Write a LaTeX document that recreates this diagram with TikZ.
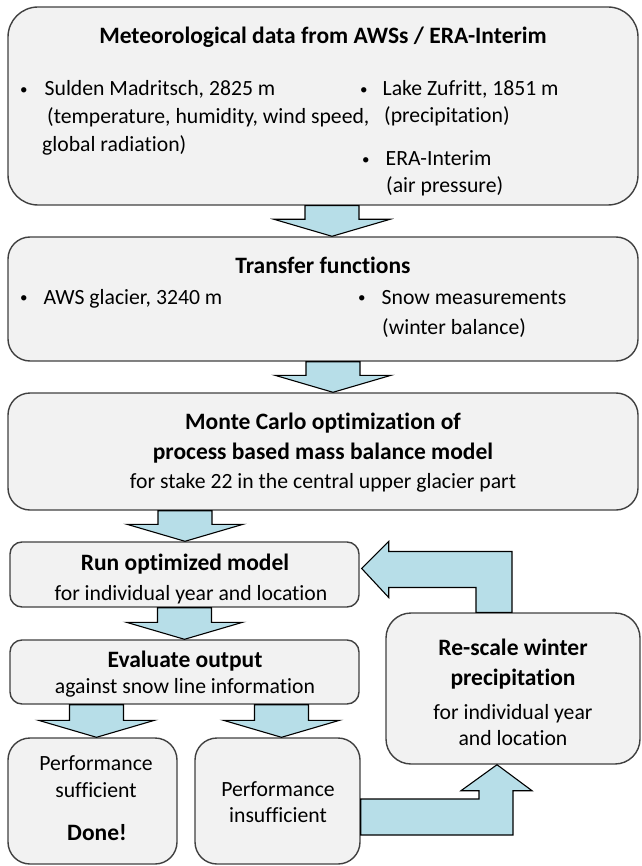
\documentclass[tikz,border=0pt]{standalone}
\usepackage{fontspec}
\setmainfont{Carlito}[RawFeature={-liga;-clig;-dlig;-calt}]
\usetikzlibrary{calc,positioning}
\definecolor{boxgray}{HTML}{F2F2F2}
\definecolor{boxline}{HTML}{404040}
\definecolor{arrowblue}{HTML}{B7DEE8}

\tikzset{
	box/.style={draw=boxline, fill=boxgray, line width=1.4pt, inner sep=0pt},
	blk/.style={draw=black, fill=arrowblue, line width=1.1pt, line join=miter},
	ttl/.style={font=\fontsize{23.5}{28}\selectfont\bfseries, anchor=base, inner sep=0pt},
	txt/.style={font=\fontsize{21.7}{26}\selectfont, anchor=base west, inner sep=0pt},
	ctxt/.style={font=\fontsize{21.7}{26}\selectfont, anchor=base, inner sep=0pt},
}

% small bullet as in the slides
\newcommand{\blt}{\raisebox{1.5pt}{\fontsize{15}{15}\selectfont\textbullet}}

% straight block arrow, from shaft top #1 down to tip #2
\newcommand{\blkdown}[2]{%
	\filldraw[blk] let \p1=#1, \p2=#2 in
	(\x1-27pt,\y1) -- (\x1+27pt,\y1) -- (\x1+27pt,\y2+17pt) -- (\x1+58pt,\y2+17pt)
	-- (\x1,\y2) -- (\x1-58pt,\y2+17pt) -- (\x1-27pt,\y2+17pt) -- cycle;}

\begin{document}
\begin{tikzpicture}[x=1pt,y=-1pt]
	\useasboundingbox (0,0) rectangle (641,866);
	% boxes
	\node[box, minimum width=630pt, minimum height=198pt, rounded corners=30pt] (met) at (323,106) {};
	\node[box, minimum width=630pt, minimum height=124pt, rounded corners=22pt] (trans) at (323,299) {};
	\node[box, minimum width=630pt, minimum height=117pt, rounded corners=22pt] (mc) at (323,451.5) {};
	\node[box, minimum width=349pt, minimum height=65pt, rounded corners=12pt] (run) at (184.5,574.5) {};
	\node[box, minimum width=349pt, minimum height=64pt, rounded corners=12pt] (eval) at (184.5,672) {};
	\node[box, minimum width=169pt, minimum height=126pt, rounded corners=22pt] (suff) at (92.5,801) {};
	\node[box, minimum width=165pt, minimum height=126pt, rounded corners=22pt] (insuff) at (277.5,801) {};
	\node[box, minimum width=254pt, minimum height=151pt, rounded corners=25pt] (rescale) at (513,688.5) {};
	% texts, box 1
	\node[ttl] (metT) at (323,44) {Meteorological data from AWSs / ERA-Interim};
	\node[txt] (metA) at (20,96) {\blt\hspace{17pt}Sulden Madritsch, 2825 m};
	\node[txt] (metB) at (47,124) {(temperature, humidity, wind speed,};
	\node[txt] (metC) at (42,152) {global radiation)};
	\node[txt] (metD) at (360,96) {\blt\hspace{15pt}Lake Zufritt, 1851 m};
	\node[txt] (metE) at (384,123) {(precipitation)};
	\node[txt] (metF) at (362,166) {\blt\hspace{16pt}ERA-Interim};
	\node[txt] (metG) at (386,193) {(air pressure)};
	% texts, box 2
	\node[ttl] (transT) at (323,273) {Transfer functions};
	\node[txt] (transA) at (20,304) {\blt\hspace{16pt}AWS glacier, 3240 m};
	\node[txt] (transB) at (358,304) {\blt\hspace{16pt}Snow measurements};
	\node[txt] (transC) at (382,334) {(winter balance)};
	% texts, box 3
	\node[ttl] (mcT) at (323,429) {Monte Carlo optimization of};
	\node[ttl] (mcU) at (323,459) {process based mass balance model};
	\node[ctxt] (mcA) at (323,488) {for stake 22 in the central upper glacier part};
	% texts, run / evaluate
	\node[ttl] (runT) at (185,570) {Run optimized model};
	\node[ctxt] (runA) at (191,600) {for individual year and location};
	\node[ttl] (evalT) at (185,667) {Evaluate output};
	\node[ctxt] (evalA) at (185,693) {against snow line information};
	% texts, bottom boxes
	\node[ctxt] (suffA) at (96,770) {Performance};
	\node[ctxt] (suffB) at (96,797) {sufficient};
	\node[ttl] (suffC) at (97,840) {Done!};
	\node[ctxt] (insuffA) at (278,796) {Performance};
	\node[ctxt] (insuffB) at (278,822) {insufficient};
	\node[ttl] (rescaleT) at (513,655) {Re-scale winter};
	\node[ttl] (rescaleU) at (513,685) {precipitation};
	\node[ctxt] (rescaleA) at (513,719) {for individual year};
	\node[ctxt] (rescaleB) at (513,745) {and location};
	% straight arrows
	\blkdown{($(met.south)+(9,0)$)}{($(trans.north)+(9,0)$)}
	\blkdown{($(trans.south)+(10,0)$)}{($(mc.north)+(10,0)$)}
	\blkdown{($(mc.south)-(138,0)$)}{($(run.north)+(2.5,0)$)}
	\blkdown{(run.south)}{(eval.north)}
	\blkdown{($(eval.south)-(88,0)$)}{($(suff.north)+(4.5,0)$)}
	\blkdown{($(eval.south)+(97,0)$)}{($(insuff.north)+(4.5,0)$)}
	% loop back arrow
	\filldraw[blk] let \p1=(rescale.north), \p2=(run.east) in
	(\x1-1pt,\y1) -- (\x1-1pt,\y2+23pt) -- (\x2+29pt,\y2+23pt) -- (\x2+29pt,\y2+33pt)
	-- (\x2+2pt,\y2+6pt) -- (\x2+29pt,\y2-23pt) -- (\x2+29pt,\y2-13pt)
	-- (\x1-37pt,\y2-13pt) -- (\x1-37pt,\y1) -- cycle;
	% arrow to re-scale
	\filldraw[blk] let \p1=(insuff.east), \p2=(rescale.south) in
	(\x1,\y1+2pt) -- (\x2-34pt,\y1+2pt) -- (\x2-34pt,\y2-26pt) -- (\x2-52pt,\y2-26pt)
	-- (\x2-16pt,\y2) -- (\x2+19pt,\y2-26pt) -- (\x2,\y2-26pt)
	-- (\x2,\y1-34pt) -- (\x1,\y1-34pt) -- cycle;
\end{tikzpicture}
\end{document}
